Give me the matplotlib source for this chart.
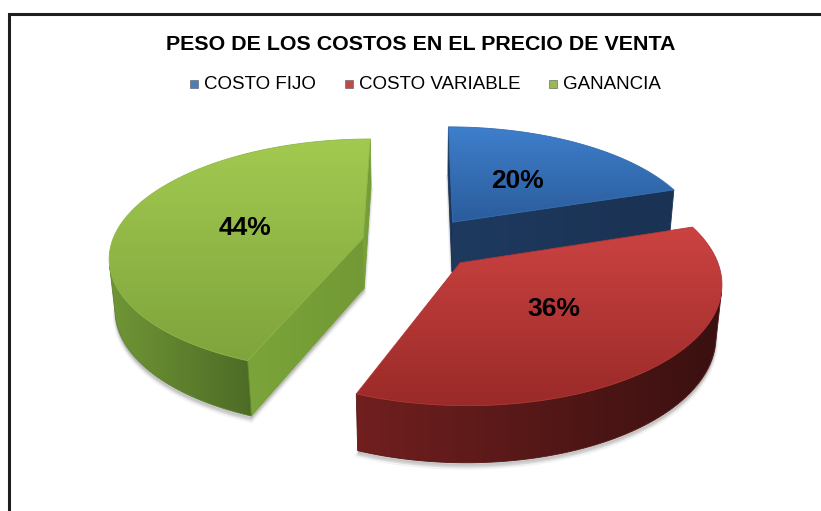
import numpy as np
import matplotlib.pyplot as plt
from matplotlib.colors import LinearSegmentedColormap
from matplotlib.patches import Polygon, Rectangle

categories = ["COSTO FIJO", "COSTO VARIABLE", "GANANCIA"]
shares = [20, 36, 44]
title = "PESO DE LOS COSTOS EN EL PRECIO DE VENTA"

# per slice: top face (back, front), outer wall (left, right), cut face
top_colors = [("#3e7fcc", "#2b5c9c"), ("#cb4341", "#9a2a28"), ("#a2ca50", "#7ea43c")]
wall_colors = [("#21426d", "#162a47"), ("#711f1f", "#3a1010"), ("#709636", "#4d6b26")]
cut_colors = [("#1e3a5f", "#1a3253"), ("#5a1818", "#4a1414"), ("#7ba43a", "#729935")]
legend_colors = ["#4a7ebb", "#be4b48", "#98b954"]

# 3d view of the pie (radius 1, depth THICK)
TILT = np.radians(29.2)
DIST = 6.0
FOCAL = 1480.0
X0, Y0 = 419.5, 293.5
THICK = 0.23
EXPLODE = 0.23
LABEL_R = 0.49

CAM = np.array([0.0, -DIST * np.cos(TILT), DIST * np.sin(TILT)])


def project(X, Y, z):
    X, Y, z = np.asarray(X, float), np.asarray(Y, float), np.asarray(z, float)
    v = Y * np.sin(TILT) + z * np.cos(TILT)
    w = DIST + Y * np.cos(TILT) - z * np.sin(TILT)
    return X0 + FOCAL * X / w, Y0 - FOCAL * v / w


def facing(point, normal):
    return np.dot(normal, CAM - np.asarray(point)) > 0


def gradient_fill(ax, xs, ys, c1, c2, horizontal=False, zorder=1):
    xs, ys = np.asarray(xs), np.asarray(ys)
    mid = LinearSegmentedColormap.from_list("m", [c1, c2])(0.5)
    poly = Polygon(np.column_stack([xs, ys]), closed=True, fc="none",
                   ec=mid, lw=0.6, zorder=zorder + 0.5)
    ax.add_patch(poly)
    ramp = np.linspace(0, 1, 256)
    img = ramp[None, :] if horizontal else ramp[:, None]
    cmap = LinearSegmentedColormap.from_list("g", [c1, c2])
    im = ax.imshow(img, cmap=cmap, extent=(xs.min(), xs.max(), ys.max(), ys.min()),
                   aspect="auto", interpolation="bilinear", zorder=zorder)
    im.set_clip_path(poly)


fig = plt.figure(figsize=(8.21, 5.11), dpi=100)
ax = fig.add_axes([0, 0, 1, 1])
ax.set_xlim(0, 821)
ax.set_ylim(511, 0)
ax.axis("off")

bounds = np.radians(np.cumsum([0] + shares) / sum(shares) * 360)
slices = []
for i in range(len(shares)):
    a0, a1 = bounds[i], bounds[i + 1]
    mid = (a0 + a1) / 2
    slices.append((i, a0, a1, mid, EXPLODE * np.sin(mid), EXPLODE * np.cos(mid)))

# soft shadow under the pie
for i, a0, a1, mid, cx, cy in slices:
    th = np.linspace(a0, a1, 120)
    sx, sy = project(np.r_[cx, cx + np.sin(th)], np.r_[cy, cy + np.cos(th)], 0)
    for k, (off, a) in enumerate([(5, 0.10), (3.5, 0.15), (2, 0.2)]):
        ax.add_patch(Polygon(np.column_stack([sx, sy + off]), closed=True,
                             fc="#8a8a8a", ec="#8a8a8a", lw=3 - k, alpha=a, zorder=2))

# far slices first
for k, (i, a0, a1, mid, cx, cy) in enumerate(sorted(slices, key=lambda s: -s[5])):
    z = 10 + k * 10

    # radial cut faces
    for ang, normal in [(a0, (-np.cos(a0), np.sin(a0), 0)), (a1, (np.cos(a1), -np.sin(a1), 0))]:
        ex, ey = cx + np.sin(ang), cy + np.cos(ang)
        if facing(((cx + ex) / 2, (cy + ey) / 2, THICK / 2), normal):
            px, py = project([cx, ex, ex, cx], [cy, ey, ey, cy], [THICK, THICK, 0, 0])
            gradient_fill(ax, px, py, *cut_colors[i], horizontal=True, zorder=z)

    # outer wall, visible part only
    th = np.linspace(a0, a1, 300)
    vis = np.array([facing((cx + np.sin(t), cy + np.cos(t), THICK / 2),
                           (np.sin(t), np.cos(t), 0)) for t in th])
    if vis.any():
        tv = th[vis]
        ox, oy = cx + np.sin(tv), cy + np.cos(tv)
        tx, ty = project(ox, oy, THICK)
        bx, by = project(ox, oy, 0)
        gradient_fill(ax, np.r_[tx, bx[::-1]], np.r_[ty, by[::-1]],
                      *wall_colors[i], horizontal=True, zorder=z + 1)

    # top face
    tx, ty = project(np.r_[cx, cx + np.sin(th)], np.r_[cy, cy + np.cos(th)], THICK)
    gradient_fill(ax, tx, ty, *top_colors[i], zorder=z + 3)

    lx, ly = project(cx + LABEL_R * np.sin(mid), cy + LABEL_R * np.cos(mid), THICK)
    ax.text(lx, ly, f"{shares[i] / sum(shares):.0%}", ha="center", va="center",
            fontsize=19, fontweight="bold", family="Liberation Sans",
            color="black", zorder=z + 5)

ax.text(421, 44, title, ha="center", va="center", fontsize=15.4,
        fontweight="bold", family="Liberation Sans", color="black")

legend_x = [190, 345, 549]
for x, name, col in zip(legend_x, categories, legend_colors):
    ax.add_patch(Rectangle((x, 80), 8, 8, fc=col, ec="#555555", lw=0.4, zorder=5))
    ax.text(x + 14, 84.5, name, ha="left", va="center", fontsize=13.5,
            family="Liberation Sans", color="black")

# chart frame
ax.plot([9, 9, 821], [511, 14, 14], color="#1e1e1e", lw=2.2,
        solid_joinstyle="miter", zorder=50)

fig.savefig("out.png", dpi=100)
